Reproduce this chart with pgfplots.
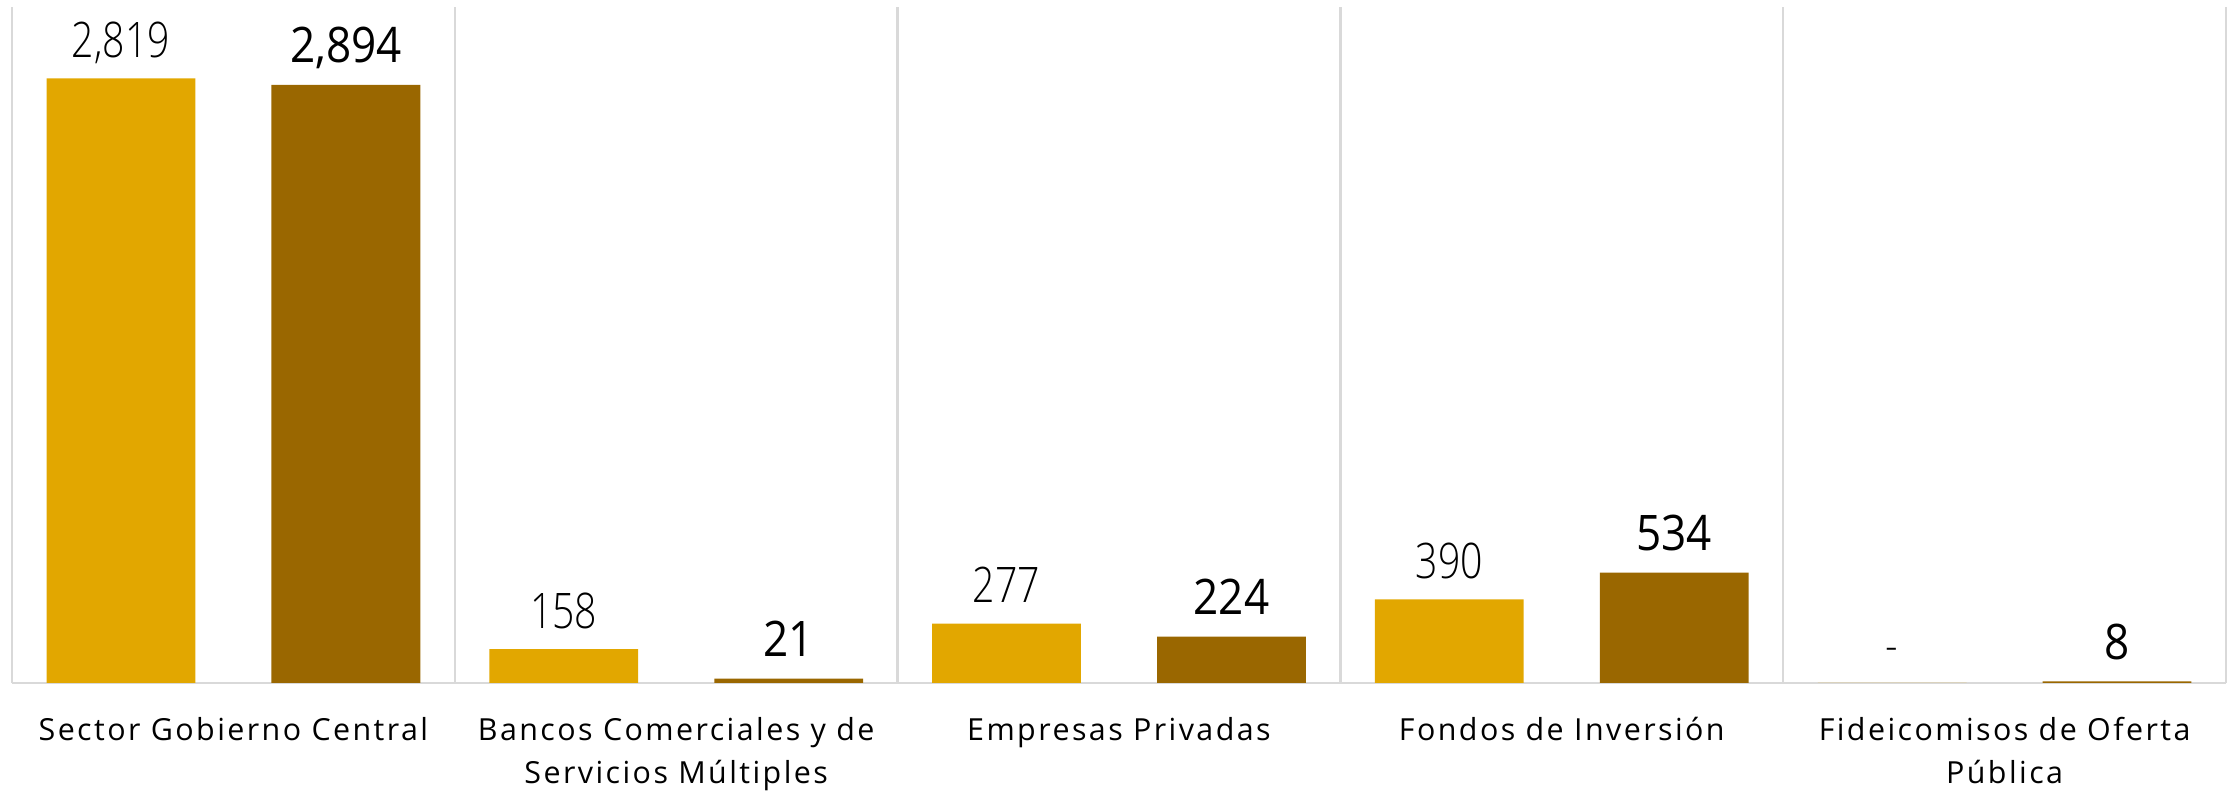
\documentclass[border=0pt]{standalone}
\usepackage{fontspec}
\setmainfont{Open Sans}
\newfontfamily\lightfont[FakeStretch=0.8]{Open Sans Light}
\newfontfamily\regfont[FakeStretch=0.9]{Open Sans}
\newfontfamily\tickfont[LetterSpace=8]{Open Sans}
\usepackage{pgfplots}
\pgfplotsset{compat=1.18}
\usepackage{pgfplotstable}
\definecolor{cyel}{HTML}{E2A700}
\definecolor{cbrn}{HTML}{9A6700}
\definecolor{cgrid}{HTML}{D9D9D9}

\pgfplotstableread{
x y lab
0 2819 {2,819}
1 158 158
2 277 277
3 390 390
4 0 -
}\yeltab
\pgfplotstableread{
x y lab
0 2894 {2,894}
1 21 21
2 224 224
3 534 534
4 8 8
}\brntab

\pgfplotsset{
  base/.style={
    width=553.5pt, height=169pt, scale only axis,
    xmin=-0.5, xmax=4.5, ymin=0,
    at={(0,0)}, anchor=south west,
  },
}

\begin{document}
\begin{tikzpicture}
\path[use as bounding box] (-3pt,-27pt) rectangle (554pt,170.75pt);
\begin{axis}[base,
  ymax=3152,
  axis y line=none,
  axis x line*=bottom,
  x axis line style={cgrid, line width=0.6pt},
  xtick={0,1,2,3,4},
  xticklabels={Sector Gobierno Central,{Bancos Comerciales y de\\Servicios Múltiples},Empresas Privadas,Fondos de Inversión,{Fideicomisos de Oferta\\Pública}},
  xticklabel style={font=\tickfont\fontsize{7.6}{10.75}\selectfont, align=center, anchor=north, inner sep=0pt, yshift=-8.4pt, text=black},
  major tick length=0pt,
  minor xtick={-0.5,0.5,1.5,2.5,3.5,4.5},
  minor tick length=0pt,
  xminorgrids,
  minor grid style={cgrid, line width=0.6pt},
  ybar, bar width=0.336, bar shift=-0.254,
  point meta=explicit symbolic,
  nodes near coords={\pgfplotspointmeta},
  every node near coord/.append style={font=\lightfont\fontsize{12.25}{14}\selectfont, anchor=base, inner sep=0pt, yshift=5.25pt, text=black},
]
\addplot[fill=cyel, draw=none] table[x=x, y=y, meta=lab] {\yeltab};
\end{axis}
\begin{axis}[base,
  ymax=3271,
  hide axis,
  ybar, bar width=0.336, bar shift=0.254,
  point meta=explicit symbolic,
  nodes near coords={\pgfplotspointmeta},
  every node near coord/.append style={font=\regfont\fontsize{12.25}{14}\selectfont, anchor=base, inner sep=0pt, yshift=5.5pt, text=black},
]
\addplot[fill=cbrn, draw=none] table[x=x, y=y, meta=lab] {\brntab};
\end{axis}
\end{tikzpicture}
\end{document}
